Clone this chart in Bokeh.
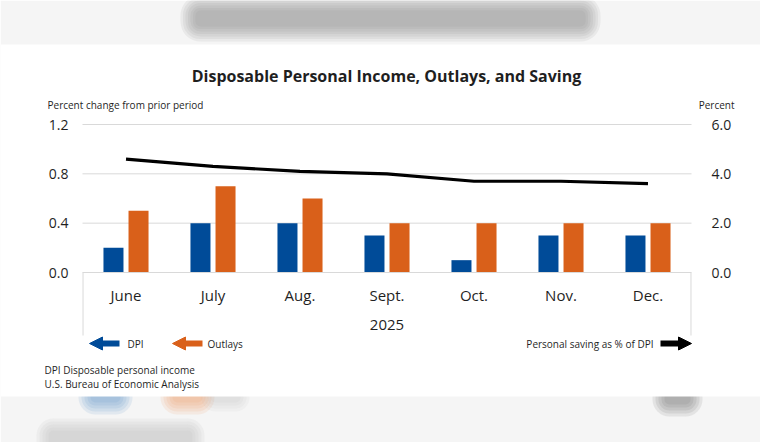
from bokeh.plotting import figure
from bokeh.models import (Range1d, LinearAxis, FixedTicker, NumeralTickFormatter,
                          Label, Arrow, NormalHead, BoxAnnotation, ColumnDataSource)
from bokeh.transform import dodge
from bokeh.embed import file_html
from bokeh.resources import INLINE

# ---- data ----
year = "2025"
months = ["June", "July", "Aug.", "Sept.", "Oct.", "Nov.", "Dec."]
dpi = [0.2, 0.4, 0.4, 0.3, 0.1, 0.3, 0.3]
outlays = [0.5, 0.7, 0.6, 0.4, 0.4, 0.4, 0.4]
saving_rate = [4.6, 4.3, 4.1, 4.0, 3.7, 3.7, 3.6]
left_ticks = [0.0, 0.4, 0.8, 1.2]
right_ticks = [0.0, 2.0, 4.0, 6.0]

BLUE = "#004B98"
ORANGE = "#D9601A"
GRID = "#D9D9D9"
FONT = "Open Sans"
TXT = "#1f1f1f"
W, H = 760, 442

# ---- layout geometry (pixels) ----
PL, PR, PT, PB = 82, 691, 124, 272        # plot area edges
BOX_BOTTOM = 335                          # bottom of the category-axis box

n = len(months)
xpos = [i + 0.5 for i in range(n)]        # category centres
px_x = (PR - PL) / n                      # pixels per category
u = left_ticks[-1] / (PB - PT)            # left-axis units per pixel
ymax = left_ticks[-1]
rscale = right_ticks[-1] / left_ticks[-1]

p = figure(width=W, height=H, output_backend="svg", toolbar_location=None,
           x_range=Range1d(-PL / px_x, n + (W - PR) / px_x),
           y_range=Range1d(-(H - PB) * u, ymax + PT * u),
           min_border=0, min_border_left=0, min_border_right=0,
           min_border_top=0, min_border_bottom=0,
           background_fill_color="white", border_fill_color="white",
           outline_line_color=None, x_axis_location=None, y_axis_location=None)
p.extra_y_ranges = {"right": Range1d(-(H - PB) * u * rscale, (ymax + PT * u) * rscale)}
p.grid.visible = False


def box(l, r, t, b, color, alpha=1.0, radius=0):
    p.add_layout(BoxAnnotation(left=l, right=r, top=t, bottom=b, left_units="canvas",
                               right_units="canvas", top_units="canvas",
                               bottom_units="canvas", fill_color=color, fill_alpha=alpha,
                               line_color=None, border_radius=radius, level="image"))


def blur(l, r, t, b, color, steps=6, spread=2.5, alpha=0.12):
    for i in range(steps):
        d = (steps - 1 - i) * spread
        box(l - d, r + d, t - d, b + d, color, alpha, radius=int(5 + d))


# ---- blurred backdrop outside the white card ----
box(0, W, 0, H, "#f5f5f5")
blur(195, 585, 10, 26, "#8a8a8a", steps=7, spread=2.5, alpha=0.11)
blur(90, 120, 390, 402, "#5f8fcc", steps=5, spread=3, alpha=0.13)
blur(172, 202, 390, 402, "#ee9a66", steps=5, spread=3, alpha=0.13)
blur(210, 240, 392, 402, "#b0b0b0", steps=4, spread=3, alpha=0.07)
blur(664, 690, 390, 404, "#707070", steps=5, spread=3, alpha=0.13)
blur(48, 192, 430, 448, "#b8b8b8", steps=5, spread=3, alpha=0.13)
box(0, W, 44, 396, "white")

# ---- data marks ----
src = ColumnDataSource(dict(x=xpos, dpi=dpi, outlays=outlays, saving=saving_rate))

p.segment(x0=0, x1=n, y0=left_ticks[1:], y1=left_ticks[1:], line_color=GRID, line_width=1)
p.vbar(x=dodge("x", -0.144), top="dpi", width=0.23, source=src, fill_color=BLUE,
       line_color=None)
p.vbar(x=dodge("x", 0.144), top="outlays", width=0.23, source=src, fill_color=ORANGE,
       line_color=None)
p.line(x="x", y="saving", source=src, y_range_name="right", line_color="black",
       line_width=3.2)

# box lines framing the category axis
yb = -(BOX_BOTTOM - PB) * u
p.segment(x0=[0.006, n - 0.006], x1=[0.006, n - 0.006], y0=[yb, yb], y1=[0, 0],
          line_color=GRID, line_width=1)

# ---- axes ----
ya = LinearAxis(ticker=FixedTicker(ticks=left_ticks),
                formatter=NumeralTickFormatter(format="0.0"), fixed_location=0)
ra = LinearAxis(y_range_name="right", ticker=FixedTicker(ticks=right_ticks),
                formatter=NumeralTickFormatter(format="0.0"), fixed_location=n)
p.add_layout(ya, "left")
p.add_layout(ra, "right")
for ax, st in ((ya, 14), (ra, 20)):
    ax.axis_line_color = None
    ax.major_tick_line_color = None
    ax.minor_tick_line_color = None
    ax.major_tick_out = 0
    ax.major_tick_in = 0
    ax.major_label_standoff = st
    ax.major_label_text_font = FONT
    ax.major_label_text_font_size = "14px"
    ax.major_label_text_color = TXT

xa = LinearAxis(ticker=FixedTicker(ticks=xpos), fixed_location=0, bounds=(0, n),
                major_label_overrides={x: m for x, m in zip(xpos, months)},
                axis_label=year)
p.add_layout(xa, "below")
xa.axis_line_color = GRID
xa.major_tick_line_color = None
xa.minor_tick_line_color = None
xa.major_tick_out = 0
xa.major_tick_in = 0
xa.major_label_standoff = 12
xa.major_label_text_font = FONT
xa.major_label_text_font_size = "15px"
xa.major_label_text_color = TXT
xa.axis_label_standoff = 12
xa.axis_label_text_font = FONT
xa.axis_label_text_font_size = "15px"
xa.axis_label_text_font_style = "normal"
xa.axis_label_text_color = TXT


# ---- texts ----
def lab(x, y, t, size, align="left", style="normal"):
    p.add_layout(Label(x=x, y=y, x_units="canvas", y_units="canvas", text=t,
                       text_font=FONT, text_font_size=size, text_align=align,
                       text_baseline="middle", text_color=TXT, text_font_style=style))


lab(386, 75, "Disposable Personal Income, Outlays, and Saving", "16px", "center", "bold")
lab(47, 104, "Percent change from prior period", "10px")
lab(734, 104, "Percent", "10px", "right")
lab(127, 343, "DPI", "10px")
lab(207, 343, "Outlays", "10px")
lab(653, 343, "Personal saving as % of DPI", "10px", "right")
lab(44, 369, "DPI Disposable personal income", "10px")
lab(44, 383, "U.S. Bureau of Economic Analysis", "10px")


def arr(x0, x1, c):
    p.add_layout(Arrow(x_start=x0, y_start=343, x_end=x1, y_end=343, start_units="canvas",
                       end_units="canvas", line_color=c, line_width=6,
                       end=NormalHead(size=13, fill_color=c, line_color=c)))


arr(119, 89, BLUE)
arr(202, 172, ORANGE)
arr(660, 691, "black")

open("out.html", "w").write(file_html(p, INLINE))
